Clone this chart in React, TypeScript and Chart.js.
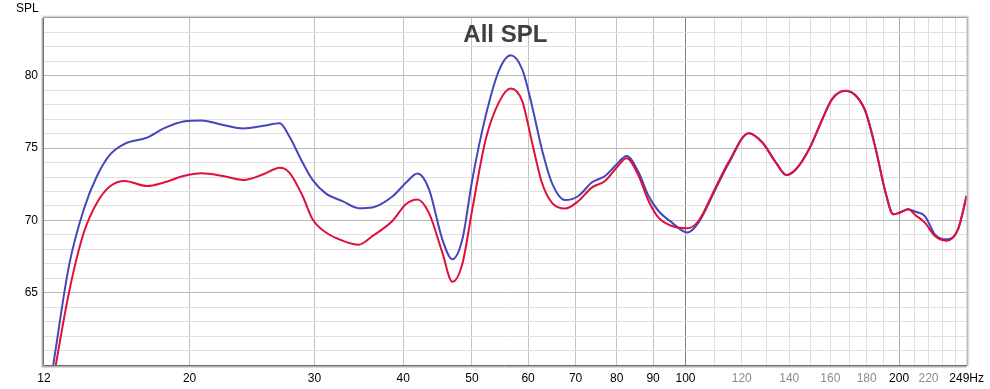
import React, { useEffect, useRef } from 'react';
import { Chart, registerables } from 'chart.js';

Chart.register(...registerables);

// Frequencies (Hz) at which the curves were read
const frequencies = [
  12.85, 13.52, 14.19, 14.81, 15.47, 16.2, 17.42, 18.39, 19.61, 20.8,
  22.3, 23.82, 25.41, 26.8, 27.65, 28.86, 29.81, 31.14, 32.85, 34.6,
  36.21, 38.62, 40.35, 41.9, 43.5, 45.42, 46.92, 48.47, 50.07, 52.28,
  54.61, 56.7, 58.85, 60.77, 62.74, 64.79, 67.68, 70.64, 73.76, 77.0,
  79.98, 82.6, 85.9, 88.7, 91.6, 95.7, 100.5, 104.3, 110.2, 114.9,
  122.8, 128.3, 134.1, 138.7, 143.1, 149.3, 155.9, 160.9, 168.1, 174.7,
  179.5, 185.4, 191.4, 196.2, 200.5, 205.9, 211, 217.4, 224.6, 233.2,
  242.1, 249,
];

// Blue curve SPL (dB)
const splBlue = [
  60.0, 66.84, 70.77, 73.07, 74.58, 75.3, 75.73, 76.36, 76.84, 76.91,
  76.6, 76.36, 76.54, 76.72, 75.8, 74.0, 72.8, 71.85, 71.34, 70.85,
  70.9, 71.65, 72.6, 73.24, 72.15, 68.69, 67.31, 68.69, 72.85, 77.23,
  80.4, 81.43, 80.46, 77.92, 74.92, 72.62, 71.41, 71.69, 72.62, 73.07,
  73.89, 74.46, 73.31, 71.69, 70.65, 69.85, 69.16, 69.85, 72.15, 73.9,
  76.03, 75.39, 74.0, 73.14, 73.54, 74.92, 77.0, 78.39, 78.96, 78.5,
  77.47, 74.92, 71.92, 70.42, 70.55, 70.77, 70.6, 70.3, 69.04, 68.69,
  69.38, 71.7,
];

// Red curve SPL (dB)
const splRed = [
  59.0, 65.0, 69.16, 71.23, 72.38, 72.73, 72.38, 72.62, 73.07, 73.26,
  73.07, 72.8, 73.19, 73.64, 73.31, 71.69, 70.08, 69.16, 68.6, 68.32,
  68.92, 69.96, 71.12, 71.45, 70.5, 67.77, 65.75, 67.0, 70.8, 75.6,
  78.2, 79.13, 78.27, 75.39, 72.62, 71.23, 70.82, 71.34, 72.27, 72.73,
  73.66, 74.3, 73.07, 71.34, 70.19, 69.61, 69.45, 69.96, 72.27, 74.0,
  76.03, 75.39, 74.0, 73.14, 73.54, 74.92, 77.0, 78.39, 78.96, 78.5,
  77.47, 74.92, 71.92, 70.42, 70.55, 70.77, 70.35, 69.85, 68.92, 68.6,
  69.38, 71.7,
];

// X axis grid / tick positions and labels
const xTickValues = [
  12.47, 20, 30, 40, 50, 60, 70, 80, 90, 100,
  110, 120, 130, 140, 150, 160, 170, 180, 190, 200,
  210, 220, 230, 240, 249,
];
const xTickLabels = [
  '12', '20', '30', '40', '50', '60', '70', '80', '90', '100',
  '', '120', '', '140', '', '160', '', '180', '', '200',
  '', '220', '', '', '249Hz',
];
const xGrayLabels = ['120', '140', '160', '180', '220'];

// Y axis labels
const yTickLabels = ['65', '70', '75', '80'];

const X_MIN = 12.47;
const X_MAX = 249;
const Y_MIN = 60;
const Y_MAX = 84;

const FONT = '"Liberation Sans", Arial, sans-serif';

export default function App() {
  const canvasRef = useRef<HTMLCanvasElement | null>(null);

  useEffect(() => {
    const canvas = canvasRef.current;
    if (!canvas) return;

    const overlay = {
      id: 'overlay',
      beforeDatasetsDraw(chart: any) {
        const { ctx, chartArea } = chart;
        ctx.save();
        ctx.font = `bold 24px ${FONT}`;
        ctx.fillStyle = '#404040';
        ctx.textAlign = 'center';
        ctx.textBaseline = 'middle';
        ctx.fillText('All SPL', (chartArea.left + chartArea.right) / 2, 35);
        ctx.restore();
      },
      afterDraw(chart: any) {
        const { ctx, chartArea } = chart;
        const { left, right, top, bottom } = chartArea;
        ctx.save();
        ctx.font = `12px ${FONT}`;
        ctx.fillStyle = '#000';
        ctx.textAlign = 'left';
        ctx.textBaseline = 'alphabetic';
        ctx.fillText('SPL', 16, 12);
        // frame with soft shadow
        const shades = ['#efefef', '#d4d4d4', '#a0a0a0'];
        for (let i = 0; i < 3; i++) {
          const o = 2 - i;
          ctx.strokeStyle = shades[i];
          ctx.lineWidth = 1;
          ctx.beginPath();
          ctx.moveTo(left - 0.5 - o, top - 0.5 - o);
          ctx.lineTo(right + 0.5 + o, top - 0.5 - o);
          ctx.lineTo(right + 0.5 + o, bottom + 0.5 + o);
          ctx.stroke();
        }
        ctx.strokeStyle = '#d8d8d8';
        ctx.beginPath();
        ctx.moveTo(left - 2.5, top);
        ctx.lineTo(left - 2.5, bottom + 2.5);
        ctx.lineTo(right, bottom + 2.5);
        ctx.stroke();
        ctx.strokeStyle = '#b0b0b0';
        ctx.beginPath();
        ctx.moveTo(left - 1.5, top);
        ctx.lineTo(left - 1.5, bottom + 1.5);
        ctx.lineTo(right, bottom + 1.5);
        ctx.stroke();
        ctx.strokeStyle = '#6e6e6e';
        ctx.beginPath();
        ctx.moveTo(left - 0.5, top - 0.5);
        ctx.lineTo(left - 0.5, bottom + 0.5);
        ctx.lineTo(right + 0.5, bottom + 0.5);
        ctx.stroke();
        ctx.restore();
      },
    };

    const xGridColor = (v: number) => {
      if (v === X_MIN || v === X_MAX) return 'rgba(0,0,0,0)';
      if (v === 100) return '#808080';
      if (v === 200) return '#aaaaaa';
      if (v > 100) return '#dedede';
      return '#c2c2c2';
    };

    const chart = new Chart(canvas, {
      type: 'line',
      data: {
        datasets: [
          {
            label: 'red',
            data: frequencies.map((f, i) => ({ x: f, y: splRed[i] })),
            borderColor: '#e0103c',
            borderWidth: 2,
            pointRadius: 0,
            cubicInterpolationMode: 'monotone',
            fill: false,
            order: 0,
          },
          {
            label: 'blue',
            data: frequencies.map((f, i) => ({ x: f, y: splBlue[i] })),
            borderColor: '#4646bc',
            borderWidth: 2,
            pointRadius: 0,
            cubicInterpolationMode: 'monotone',
            fill: false,
            order: 1,
          },
        ],
      },
      options: {
        animation: false,
        responsive: false,
        devicePixelRatio: 1,
        events: [],
        layout: { padding: { left: 0, top: 18, right: 22, bottom: 0 } },
        plugins: {
          legend: { display: false },
          tooltip: { enabled: false },
          title: { display: false },
        },
        scales: {
          x: {
            type: 'logarithmic',
            min: X_MIN,
            max: X_MAX,
            border: { display: false },
            afterBuildTicks: (axis: any) => {
              axis.ticks = xTickValues.map((v) => ({ value: v }));
            },
            afterFit: (axis: any) => {
              axis.height = 24;
            },
            grid: {
              drawTicks: false,
              color: (c: any) => xGridColor(c.tick ? c.tick.value : 0),
              lineWidth: 1,
            },
            ticks: {
              autoSkip: false,
              maxRotation: 0,
              padding: 6,
              font: { family: FONT, size: 12 },
              color: (c: any) => {
                const idx = xTickValues.indexOf(c.tick.value);
                const lab = xTickLabels[idx];
                return xGrayLabels.includes(lab) ? '#8c8c8c' : '#000000';
              },
              callback: (value: any) => {
                const idx = xTickValues.indexOf(Number(value));
                return idx >= 0 ? xTickLabels[idx] : '';
              },
            },
          },
          y: {
            type: 'linear',
            min: Y_MIN,
            max: Y_MAX,
            border: { display: false },
            afterFit: (axis: any) => {
              axis.width = 44;
            },
            grid: {
              drawTicks: false,
              color: (c: any) => {
                const v = c.tick ? c.tick.value : 0;
                if (v === Y_MIN || v === Y_MAX) return 'rgba(0,0,0,0)';
                return v % 5 === 0 ? '#b8b8b8' : '#e0e0e0';
              },
            },
            ticks: {
              stepSize: 1,
              autoSkip: false,
              padding: 6,
              font: { family: FONT, size: 12 },
              color: '#000000',
              callback: (value: any) => {
                const s = String(value);
                return yTickLabels.includes(s) ? s : '';
              },
            },
          },
        },
      },
      plugins: [overlay],
    } as any);

    return () => {
      chart.destroy();
    };
  }, []);

  return (
    <div style={{ position: 'fixed', left: 0, top: 0, width: 990, height: 389, background: '#fff' }}>
      <canvas ref={canvasRef} width={990} height={389} style={{ display: 'block', width: 990, height: 389 }} />
    </div>
  );
}
